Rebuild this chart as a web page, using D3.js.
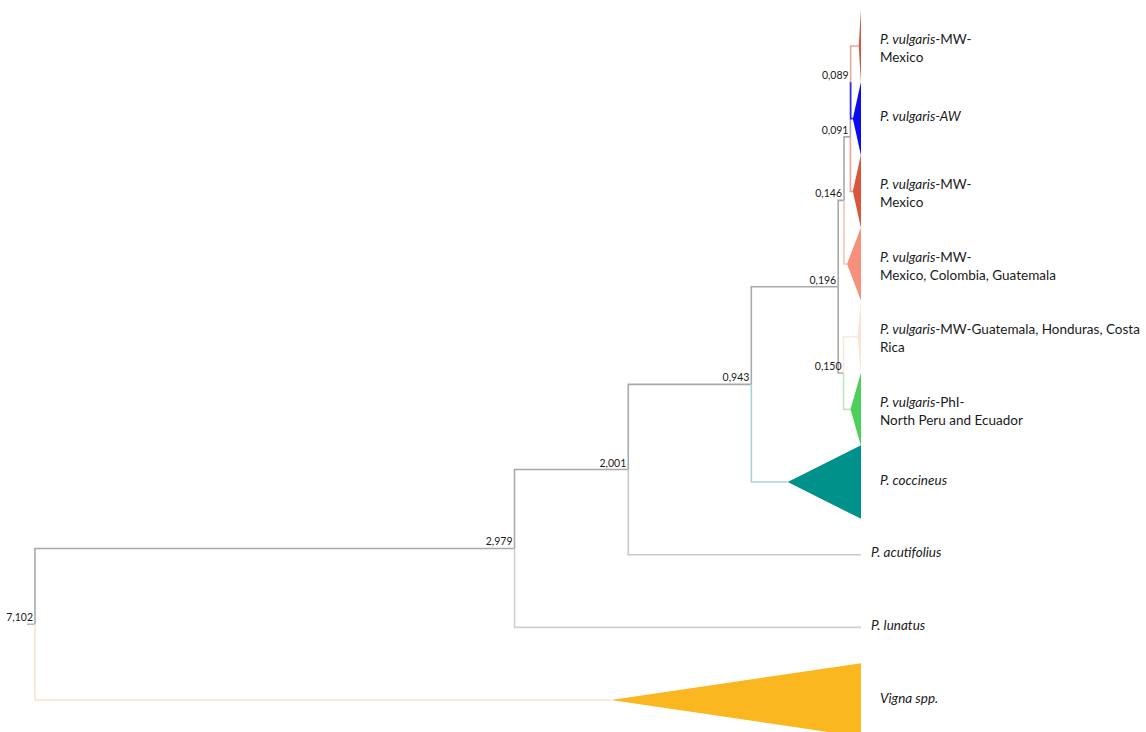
<!DOCTYPE html>
<html>
<head>
<meta charset="utf-8">
<script src="https://cdn.jsdelivr.net/npm/d3@7"></script>
<style>
  body { margin: 0; background: #fff; }
  svg text { font-family: Lato, "Open Sans", sans-serif; fill: #1a1a1a; }
</style>
</head>
<body>
<div id="tree"></div>
<script>
var width  = 1146;
var height = 732;

// nodes of the time tree, listed top to bottom (children keep this order)
var nodeIds = ["root", "n2979", "n2001", "n0943", "n0196", "n0146", "n0091", "n0089",
  "mex1", "aw", "mex2", "mexColGua", "n0150", "guaHonCr", "phi",
  "coccineus", "acutifolius", "lunatus", "vigna"];
var nodeParents = ["", "root", "n2979", "n2001", "n0943", "n0196", "n0146", "n0091",
  "n0089", "n0089", "n0091", "n0146", "n0196", "n0150", "n0150",
  "n0943", "n2001", "n2979", "root"];
// node ages (the numbers written on the tree), tips are 0
var nodeAges = [7.102, 2.979, 2.001, 0.943, 0.196, 0.146, 0.091, 0.089,
  0, 0, 0, 0, 0.150, 0, 0,
  0, 0, 0, 0];
// crown age of each collapsed clade (apex of its triangle), 0 = single tip
var crownAges = [0, 0, 0, 0, 0, 0, 0, 0,
  0.02, 0.07, 0.07, 0.12, 0, 0.03, 0.09,
  0.63, 0, 0, 2.15];

// tip labels: italic part, plain rest of line 1, plain line 2
var tipItalic = {
  mex1: "P. vulgaris", aw: "P. vulgaris-AW", mex2: "P. vulgaris", mexColGua: "P. vulgaris",
  guaHonCr: "P. vulgaris", phi: "P. vulgaris", coccineus: "P. coccineus",
  acutifolius: "P. acutifolius", lunatus: "P. lunatus", vigna: "Vigna spp."
};
var tipRest = {
  mex1: "-MW-", mex2: "-MW-", mexColGua: "-MW-",
  guaHonCr: "-MW-Guatemala, Honduras, Costa", phi: "-PhI-"
};
var tipLine2 = {
  mex1: "Mexico", mex2: "Mexico", mexColGua: "Mexico, Colombia, Guatemala",
  guaHonCr: "Rica", phi: "North Peru and Ecuador"
};

// clade colours (triangle fill, branch leading to it)
var cladeFill = {
  mex1: "#c95a45", aw: "#0a0af5", mex2: "#d9553c", mexColGua: "#f5917b",
  guaHonCr: "#fce2d7", phi: "#4ccf58", coccineus: "#00918a", vigna: "#fbb71f"
};
var cladeStem = {
  mex1: "#e3aa9c", aw: "#2a2af0", mex2: "#eba494", mexColGua: "#f8c2b5",
  guaHonCr: "#fbe7df", phi: "#bfe7c0", coccineus: "#a5d6d3", vigna: "#fde4c9",
  acutifolius: "#c9c9c9", lunatus: "#cfcfcf"
};
var internalStem = "#a9a9a9";

var ageFormat = d3.formatLocale({decimal: ",", thousands: ".", grouping: [3], currency: ["", ""]}).format(".3f");

var svg = d3.select("#tree").append("svg")
  .attr("width", width)
  .attr("height", height);

var table = nodeIds.map(function(id, i) {
  return {id: id, parent: nodeParents[i], age: nodeAges[i], crown: crownAges[i]};
});

var root = d3.stratify()
  .id(function(d) { return d.id; })
  .parentId(function(d) { return d.parent || null; })(table);

// leaves evenly spaced down the page, parents halfway between their children
var band = 72.67;
var nLeaves = root.leaves().length;
d3.cluster().size([band * nLeaves, 1]).separation(function() { return 1; })(root);
var yTop = 46 - band / 2;

var x = d3.scaleLinear().domain([7.102, 0]).range([35, 861]);
function ny(d) { return yTop + d.x; }
function nx(d) { return x(d.data.age); }
// where the drawn branch ends: node itself, or apex of a collapsed clade
function endX(d) { return d.children ? nx(d) : x(d.data.crown); }

// root stub
svg.append("path")
  .attr("d", "M" + (x(7.102) - 8) + "," + ny(root) + "H" + x(7.102))
  .attr("stroke", "#b5b5b5").attr("stroke-width", 1.5).attr("fill", "none");

// branches: vertical at the parent's age, then horizontal to the child
svg.selectAll(".branch")
  .data(root.descendants().slice(1))
  .enter().append("path")
  .attr("class", "branch")
  .attr("fill", "none")
  .attr("stroke-width", 1.6)
  .attr("stroke", function(d) { return d.children ? internalStem : cladeStem[d.id]; })
  .attr("d", function(d) {
    return "M" + nx(d.parent) + "," + ny(d.parent) + "V" + ny(d) + "H" + endX(d);
  });

// collapsed clades as triangles
var half = band / 2 + 0.5;
svg.selectAll(".clade")
  .data(root.leaves().filter(function(d) { return d.data.crown > 0; }))
  .enter().append("path")
  .attr("class", "clade")
  .attr("fill", function(d) { return cladeFill[d.id]; })
  .attr("d", function(d) {
    var y0 = ny(d), xa = x(d.data.crown), xb = x(0);
    return "M" + xa + "," + y0 + "L" + xb + "," + (y0 - half) + "L" + xb + "," + (y0 + half) + "Z";
  });

// node ages
svg.selectAll(".age")
  .data(root.descendants().filter(function(d) { return d.children; }))
  .enter().append("text")
  .attr("class", "age")
  .attr("x", function(d) { return nx(d) - 2; })
  .attr("y", function(d) { return ny(d) - 3; })
  .attr("text-anchor", "end")
  .style("font-size", "10.5px")
  .text(function(d) { return ageFormat(d.data.age); });

// tip labels
var labels = svg.selectAll(".tip")
  .data(root.leaves())
  .enter().append("text")
  .attr("class", "tip")
  .style("font-size", "13.5px")
  .attr("transform", function(d) {
    var gap = d.data.crown > 0 ? 19 : 10;
    return "translate(" + (x(0) + gap) + "," + ny(d) + ")";
  });

labels.each(function(d) {
  var t = d3.select(this);
  var two = !!tipLine2[d.id];
  var l1 = t.append("tspan").attr("x", 0).attr("y", two ? -7 : -2).attr("dy", "0.35em");
  l1.append("tspan").style("font-style", "italic").text(tipItalic[d.id]);
  if (tipRest[d.id]) l1.append("tspan").text(tipRest[d.id]);
  if (two) {
    t.append("tspan").attr("x", 0).attr("y", 11).attr("dy", "0.35em").text(tipLine2[d.id]);
  }
});
</script>
</body>
</html>
